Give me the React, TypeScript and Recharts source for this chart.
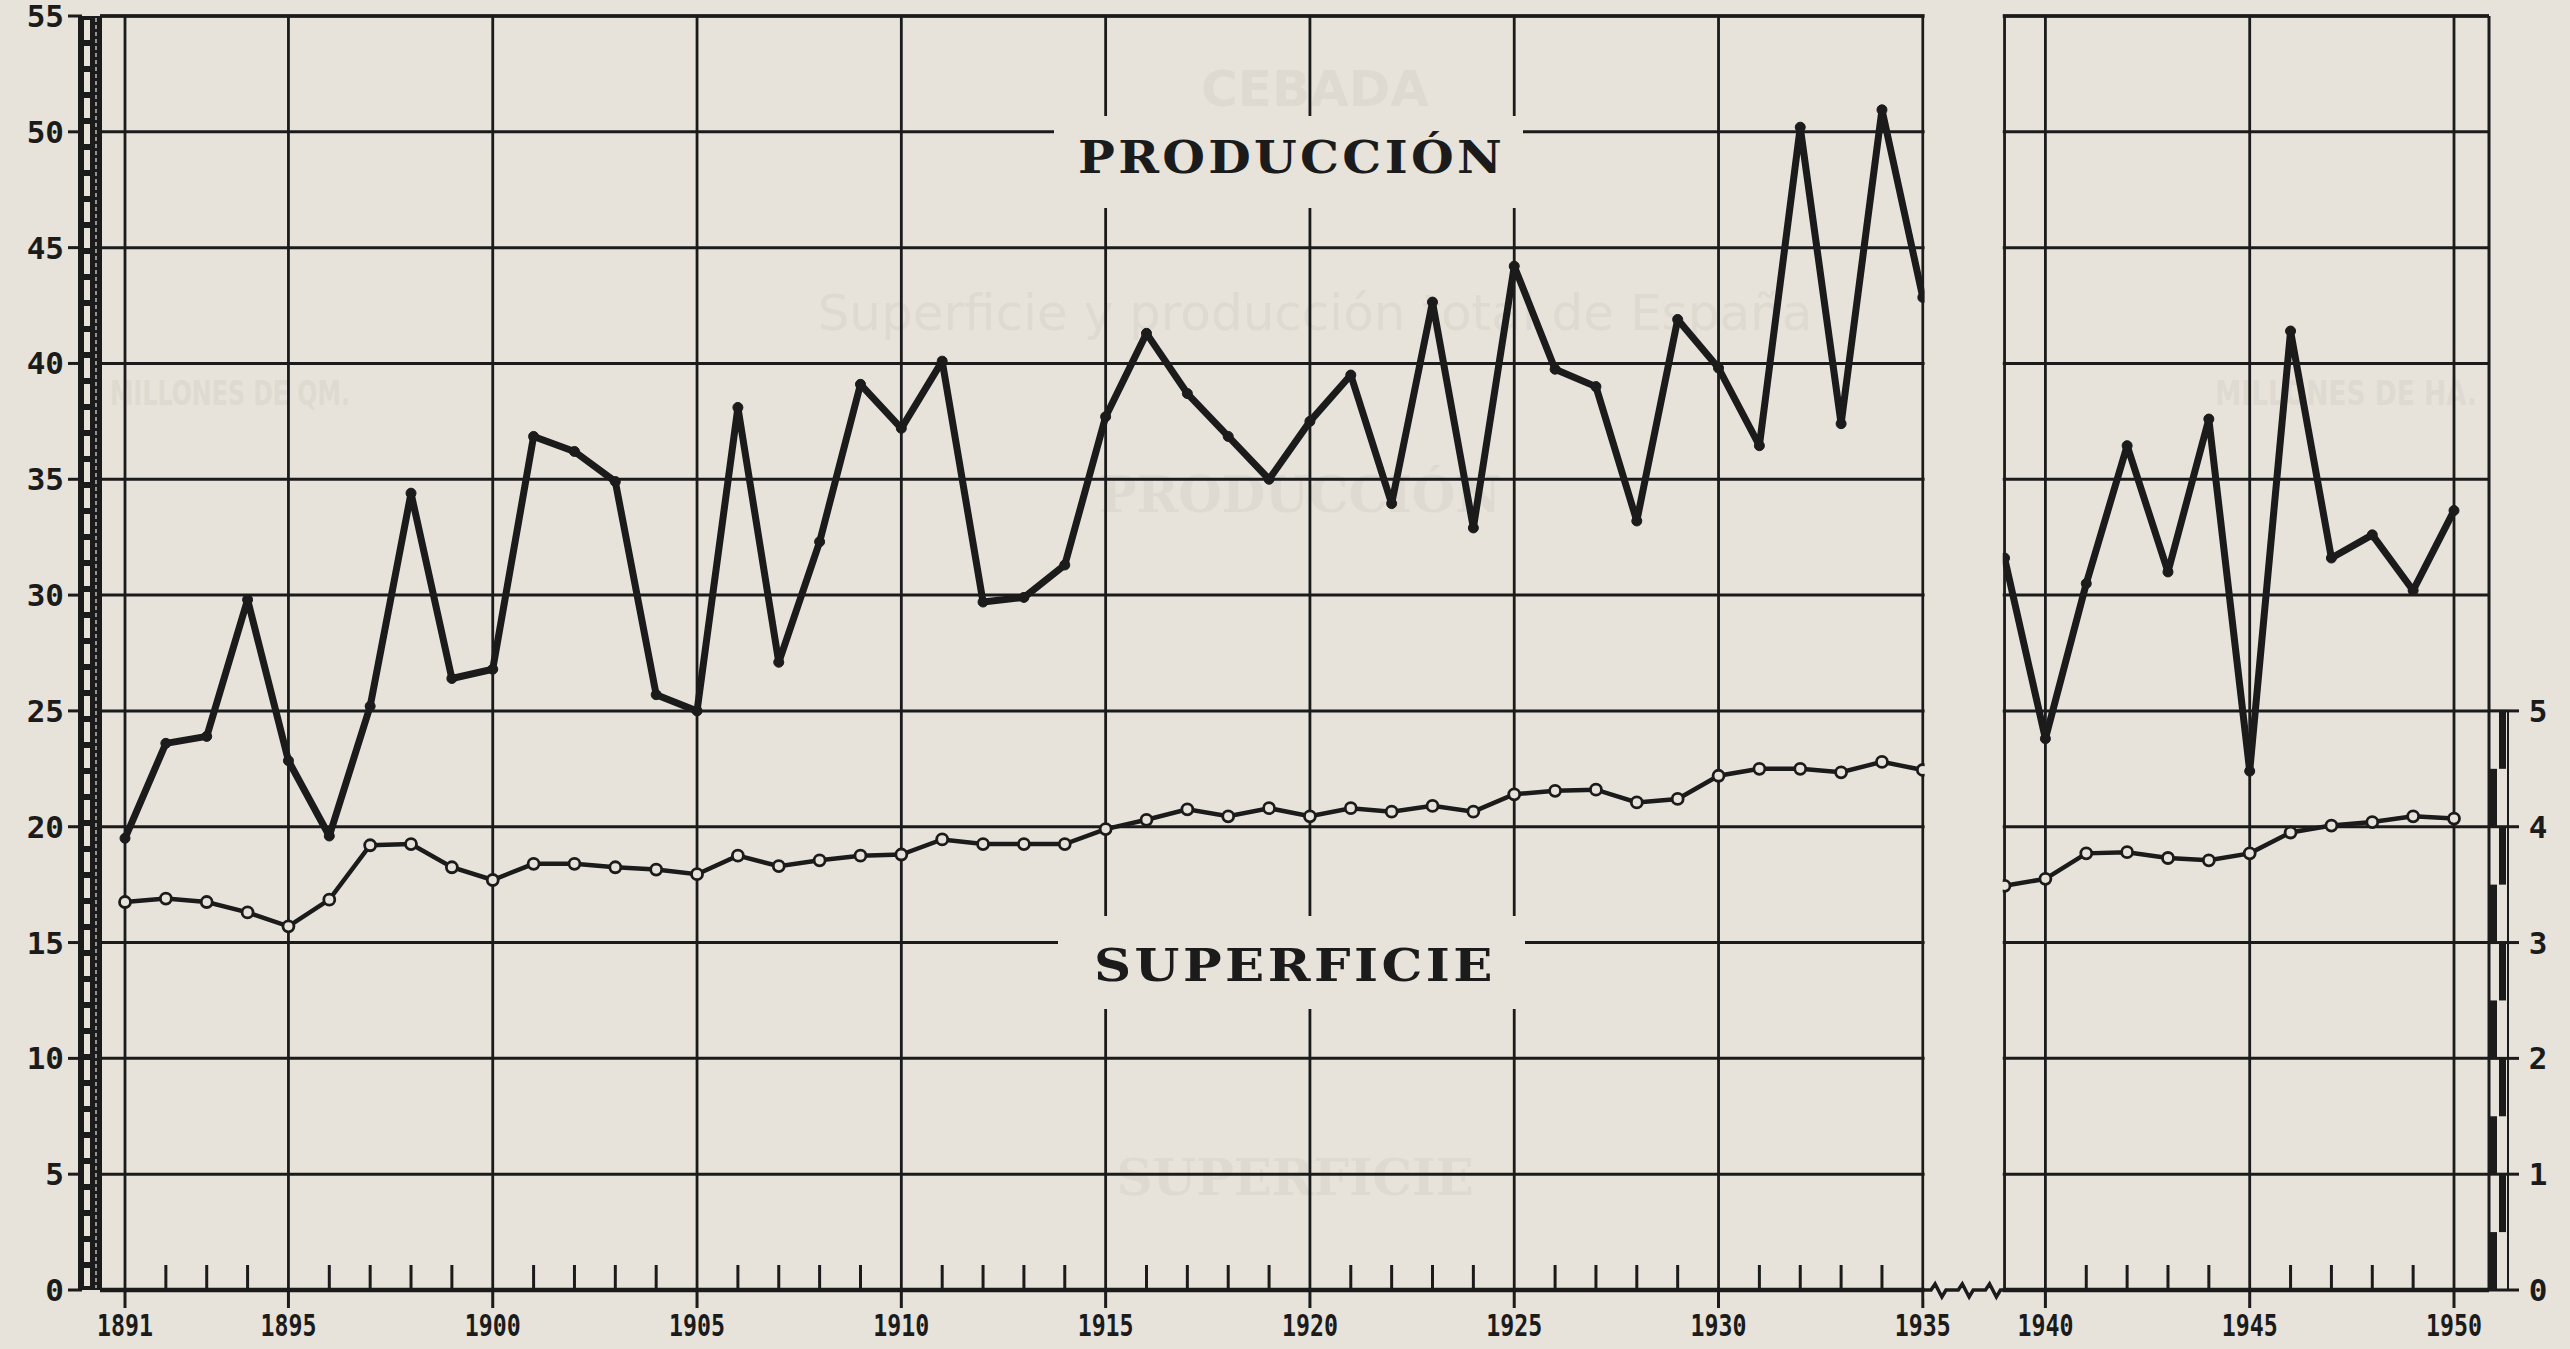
import React from "react";
import { LineChart, Line, XAxis, YAxis, CartesianGrid, ReferenceLine } from "recharts";

// years before and after the break in the axis
const years1 = [
  1891, 1892, 1893, 1894, 1895, 1896, 1897, 1898, 1899, 1900,
  1901, 1902, 1903, 1904, 1905, 1906, 1907, 1908, 1909, 1910,
  1911, 1912, 1913, 1914, 1915, 1916, 1917, 1918, 1919, 1920,
  1921, 1922, 1923, 1924, 1925, 1926, 1927, 1928, 1929, 1930,
  1931, 1932, 1933, 1934, 1935
];
const years2 = [1939, 1940, 1941, 1942, 1943, 1944, 1945, 1946, 1947, 1948, 1949, 1950];

// millones de Qm
const produccion1 = [
  19.5, 23.6, 23.9, 29.8, 22.85, 19.6, 25.2, 34.4, 26.4, 26.8,
  36.85, 36.2, 34.9, 25.7, 25.0, 38.1, 27.1, 32.3, 39.1, 37.2,
  40.1, 29.7, 29.9, 31.3, 37.7, 41.3, 38.7, 36.85, 35.0, 37.5,
  39.5, 33.95, 42.65, 32.9, 44.2, 39.75, 39.0, 33.2, 41.9, 39.8,
  36.45, 50.2, 37.4, 50.95, 42.85
];
const produccion2 = [31.6, 23.8, 30.5, 36.45, 31.0, 37.6, 22.4, 41.4, 31.6, 32.6, 30.2, 33.65];

// millones de Ha
const superficie1 = [
  3.35, 3.38, 3.35, 3.26, 3.14, 3.37, 3.84, 3.85, 3.65, 3.54,
  3.68, 3.68, 3.65, 3.63, 3.59, 3.75, 3.66, 3.71, 3.75, 3.76,
  3.89, 3.85, 3.85, 3.85, 3.98, 4.06, 4.15, 4.09, 4.16, 4.09,
  4.16, 4.13, 4.18, 4.13, 4.28, 4.31, 4.32, 4.21, 4.24, 4.44,
  4.5, 4.5, 4.47, 4.56, 4.49
];
const superficie2 = [3.49, 3.55, 3.77, 3.78, 3.73, 3.71, 3.77, 3.95, 4.01, 4.04, 4.09, 4.07];

const labeledYears = [1891, 1895, 1900, 1905, 1910, 1915, 1920, 1925, 1930, 1935, 1940, 1945, 1950];
const leftTicks = [0, 5, 10, 15, 20, 25, 30, 35, 40, 45, 50, 55];
const rightTicks = [0, 1, 2, 3, 4, 5];

const data = [
  ...years1.map((y, i) => ({ year: String(y), produccion: produccion1[i], superficie: superficie1[i] })),
  { year: "gap", produccion: null, superficie: null },
  ...years2.map((y, i) => ({ year: String(y), produccion: produccion2[i], superficie: superficie2[i] }))
];

const W = 2570;
const H = 1349;
const BG = "#e7e3da";
const INK = "#1b1b1b";
const GHOST = "#dedad1";
const PLOT_LEFT = 100;
const PLOT_RIGHT = 2489;
const PLOT_TOP = 16;
const PLOT_BOTTOM = 1290;
const PAD_L = 25;
const PAD_R = 35;
const LEFT_W = 60;
const RIGHT_W = 60;
const XAXIS_H = 40;

const step = (PLOT_RIGHT - PLOT_LEFT - PAD_L - PAD_R) / (data.length - 1);
const xAt = (i: number) => PLOT_LEFT + PAD_L + i * step;
const rightPx = (PLOT_BOTTOM - PLOT_TOP) / 11;
const yRight = (v: number) => PLOT_BOTTOM - v * rightPx;

const numFont = "'DejaVu Sans Mono', monospace";
const titleFont = "'DejaVu Serif', serif";
const ghostFont = "'DejaVu Sans', sans-serif";

function XTick(props: any) {
  const { x, payload } = props;
  const v = payload.value;
  if (v === "gap" || v === "1939") return <g />;
  const major = labeledYears.includes(Number(v));
  return (
    <g>
      {major ? (
        <line x1={x} x2={x} y1={PLOT_BOTTOM} y2={PLOT_BOTTOM + 18} stroke={INK} strokeWidth={3} />
      ) : (
        <line x1={x} x2={x} y1={PLOT_BOTTOM - 25} y2={PLOT_BOTTOM} stroke={INK} strokeWidth={3} />
      )}
      {major && (
        <text
          x={x}
          y={1336}
          textAnchor="middle"
          fontFamily={numFont}
          fontWeight="bold"
          fontSize={30}
          fill={INK}
          textLength={56}
          lengthAdjust="spacingAndGlyphs"
        >
          {v}
        </text>
      )}
    </g>
  );
}

function LeftTick(props: any) {
  const { y, payload } = props;
  return (
    <g>
      <line x1={68} x2={82} y1={y} y2={y} stroke={INK} strokeWidth={3} />
      <text x={64} y={y + 11} textAnchor="end" fontFamily={numFont} fontWeight="bold" fontSize={31} fill={INK}>
        {payload.value}
      </text>
    </g>
  );
}

function RightTick(props: any) {
  const { y, payload } = props;
  return (
    <g>
      <line x1={PLOT_RIGHT} x2={2519} y1={y} y2={y} stroke={INK} strokeWidth={3} />
      <text x={2538} y={y + 11} textAnchor="middle" fontFamily={numFont} fontWeight="bold" fontSize={31} fill={INK}>
        {payload.value}
      </text>
    </g>
  );
}

function zigzag(x0: number, x1: number, y: number) {
  const period = (x1 - x0) / 3;
  let d = `M ${x0} ${y}`;
  for (let k = 0; k < 3; k++) {
    const s = x0 + k * period;
    d += ` L ${s + period * 0.3} ${y} L ${s + period * 0.45} ${y - 6} L ${s + period * 0.7} ${y + 7} L ${s + period * 0.85} ${y}`;
  }
  d += ` L ${x1} ${y}`;
  return d;
}

export default function App() {
  const i1935 = years1.length - 1;
  const i1939 = years1.length + 1;
  const gx0 = xAt(i1935);
  const gx1 = xAt(i1939);
  const half = rightTicks.slice(1).flatMap((t) => [t, t - 0.5]);

  return (
    <div style={{ position: "absolute", left: 0, top: 0, width: W, height: H, background: BG, overflow: "hidden" }}>
      {/* faint show-through from the other side of the sheet */}
      <svg width={W} height={H} style={{ position: "absolute", left: 0, top: 0 }}>
        <text x={1315} y={106} textAnchor="middle" fontFamily={ghostFont} fontWeight="bold" fontSize={50} fill={GHOST}>CEBADA</text>
        <text x={1315} y={330} textAnchor="middle" fontFamily={ghostFont} fontSize={50} fill={GHOST}>Superficie y producción total de España</text>
        <text x={110} y={405} fontFamily={ghostFont} fontWeight="bold" fontSize={34} fill={GHOST} textLength={240} lengthAdjust="spacingAndGlyphs">MILLONES DE QM.</text>
        <text x={2215} y={405} fontFamily={ghostFont} fontWeight="bold" fontSize={34} fill={GHOST} textLength={262} lengthAdjust="spacingAndGlyphs">MILLONES DE HA.</text>
        <text x={1300} y={512} textAnchor="middle" fontFamily={titleFont} fontWeight="bold" fontSize={50} fill={GHOST}>PRODUCCIÓN</text>
        <text x={1295} y={1195} textAnchor="middle" fontFamily={titleFont} fontWeight="bold" fontSize={50} fill={GHOST}>SUPERFICIE</text>
      </svg>

      <LineChart
        width={W}
        height={H}
        data={data}
        margin={{ top: PLOT_TOP, left: PLOT_LEFT - LEFT_W, right: W - PLOT_RIGHT - RIGHT_W, bottom: H - PLOT_BOTTOM - XAXIS_H }}
        style={{ position: "absolute", left: 0, top: 0 }}
      >
        <CartesianGrid yAxisId="left" vertical={false} stroke={INK} strokeWidth={3} />
        <XAxis
          dataKey="year"
          interval={0}
          padding={{ left: PAD_L, right: PAD_R }}
          height={XAXIS_H}
          axisLine={false}
          tickLine={false}
          tick={(p: any) => <XTick {...p} />}
        />
        <YAxis
          yAxisId="left"
          domain={[0, 55]}
          ticks={leftTicks}
          width={LEFT_W}
          axisLine={false}
          tickLine={false}
          tick={(p: any) => <LeftTick {...p} />}
        />
        <YAxis
          yAxisId="right"
          orientation="right"
          domain={[0, 11]}
          ticks={rightTicks}
          width={RIGHT_W}
          axisLine={false}
          tickLine={false}
          tick={(p: any) => <RightTick {...p} />}
        />
        {[...labeledYears, 1939].map((y) => (
          <ReferenceLine key={y} x={String(y)} yAxisId="left" stroke={INK} strokeWidth={2.8} />
        ))}
        <ReferenceLine y={0} yAxisId="left" stroke={INK} strokeWidth={4.5} />
        <ReferenceLine y={55} yAxisId="left" stroke={INK} strokeWidth={3.5} />
        <Line
          yAxisId="right"
          dataKey="superficie"
          type="linear"
          stroke={INK}
          strokeWidth={4.5}
          dot={{ r: 5.5, fill: BG, stroke: INK, strokeWidth: 2.8 }}
          activeDot={false}
          isAnimationActive={false}
        />
        <Line
          yAxisId="left"
          dataKey="produccion"
          type="linear"
          stroke={INK}
          strokeWidth={7}
          strokeLinejoin="round"
          dot={{ r: 5, fill: INK, stroke: INK, strokeWidth: 1 }}
          activeDot={false}
          isAnimationActive={false}
        />
      </LineChart>

      <svg width={W} height={H} style={{ position: "absolute", left: 0, top: 0, pointerEvents: "none" }}>
        {/* break between 1935 and 1939 */}
        <rect x={gx0 + 1.8} y={0} width={gx1 - gx0 - 3.6} height={PLOT_BOTTOM + 9} fill={BG} />
        <path d={zigzag(gx0, gx1, PLOT_BOTTOM)} fill="none" stroke={INK} strokeWidth={3.5} />

        {/* right frame */}
        <line x1={PLOT_RIGHT} x2={PLOT_RIGHT} y1={PLOT_TOP} y2={PLOT_BOTTOM} stroke={INK} strokeWidth={3} />

        {/* left axis bar */}
        <rect x={78} y={PLOT_TOP} width={24} height={PLOT_BOTTOM - PLOT_TOP} fill={INK} />
        <line x1={87} x2={87} y1={PLOT_TOP + 4} y2={PLOT_BOTTOM - 4} stroke={BG} strokeWidth={6} strokeDasharray="20 6" />
        <line x1={96} x2={96} y1={PLOT_TOP + 2} y2={PLOT_BOTTOM - 2} stroke={BG} strokeWidth={1.2} strokeDasharray="4 3" />

        {/* right axis bar */}
        <rect x={PLOT_RIGHT} y={yRight(5)} width={19} height={PLOT_BOTTOM - yRight(5)} fill="none" stroke={INK} strokeWidth={2} />
        {half.map((t, k) => (
          <rect
            key={k}
            x={k % 2 === 0 ? PLOT_RIGHT + 10 : PLOT_RIGHT + 1}
            y={yRight(t)}
            width={k % 2 === 0 ? 7 : 7}
            height={rightPx / 2}
            fill={INK}
          />
        ))}

        {/* series labels */}
        <rect x={1054} y={116} width={469} height={92} fill={BG} />
        <text x={1078} y={173} fontFamily={titleFont} fontWeight="bold" fontSize={45} letterSpacing={3} fill={INK} textLength={427} lengthAdjust="spacingAndGlyphs">
          PRODUCCIÓN
        </text>
        <rect x={1058} y={916} width={467} height={93} fill={BG} />
        <text x={1094} y={981} fontFamily={titleFont} fontWeight="bold" fontSize={45} letterSpacing={3} fill={INK} textLength={402} lengthAdjust="spacingAndGlyphs">
          SUPERFICIE
        </text>
      </svg>
    </div>
  );
}
